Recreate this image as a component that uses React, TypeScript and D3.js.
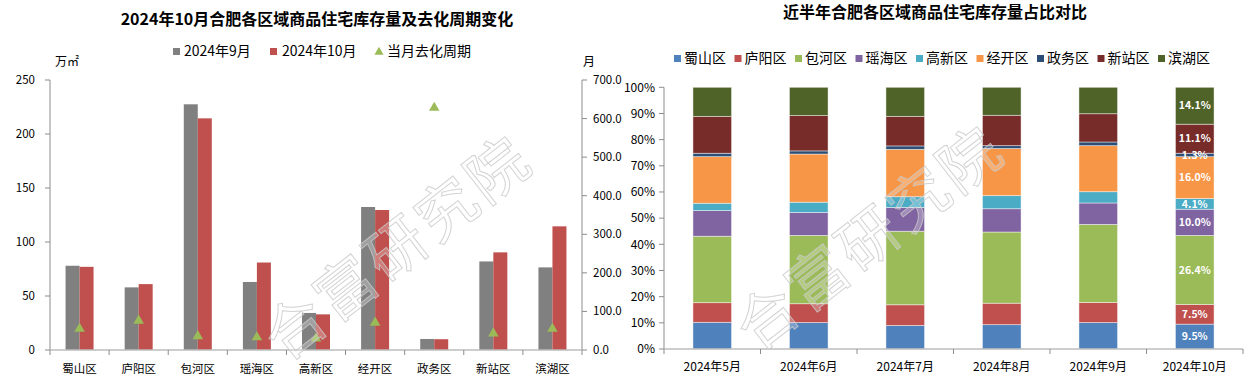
import React, { useEffect, useRef } from "react";
import * as d3 from "d3";

// left chart: stock (万㎡) for Sep / Oct and the destocking cycle (months)
const districts = ["蜀山区", "庐阳区", "包河区", "瑶海区", "高新区", "经开区", "政务区", "新站区", "滨湖区"];
const stockSep = [78, 58, 227.5, 63, 34.3, 132.4, 10.2, 82, 76.5];
const stockOct = [77, 61, 214.5, 81, 33, 129.6, 10, 90.4, 114.5];
const cycleOct = [55, 76, 36, 33, 30, 71, 628, 43, 55];
const leftTicks = [0, 50, 100, 150, 200, 250];
const rightTicks = [0, 100, 200, 300, 400, 500, 600, 700];

// right chart: share of stock by district (%), one array per district
const months = ["2024年5月", "2024年6月", "2024年7月", "2024年8月", "2024年9月", "2024年10月"];
const shuShan = [10.2, 10.1, 9.0, 9.3, 10.1, 9.5];
const luYang = [7.5, 7.2, 7.9, 8.2, 7.7, 7.5];
const baoHe = [25.4, 26.1, 28.1, 27.2, 29.8, 26.4];
const yaoHai = [9.8, 8.8, 9.1, 8.9, 8.2, 10.0];
const gaoXin = [2.8, 3.9, 4.1, 5.0, 4.3, 4.1];
const jingKai = [17.8, 18.4, 18.1, 18.0, 17.6, 16.0];
const zhengWu = [1.3, 1.2, 1.3, 1.1, 1.4, 1.3];
const xinZhan = [14.1, 13.5, 11.3, 11.6, 10.8, 11.1];
const binHu = [11.1, 10.8, 11.1, 10.7, 10.1, 14.1];
const shareSeries = [shuShan, luYang, baoHe, yaoHai, gaoXin, jingKai, zhengWu, xinZhan, binHu];
const pctTicks = [0, 10, 20, 30, 40, 50, 60, 70, 80, 90, 100];

const FONT = "'Noto Sans CJK SC', 'Noto Sans', sans-serif";
const shareColors = ["#4F81BD", "#C0504D", "#9BBB59", "#8064A2", "#4BACC6", "#F79646", "#2C4D75", "#772C2A", "#4F6228"];

export default function App() {
  const ref = useRef<SVGSVGElement>(null);

  useEffect(() => {
    const svg = d3.select(ref.current);
    svg.selectAll("*").remove();

    // ---------- left chart ----------
    const L = { x0: 50, x1: 582, y0: 80, y1: 350 };
    const g1 = svg.append("g");

    g1.append("text").attr("x", 317).attr("y", 24.5).attr("text-anchor", "middle")
      .attr("font-size", 16).attr("font-weight", "bold").attr("font-family", FONT)
      .text("2024年10月合肥各区域商品住宅库存量及去化周期变化");

    const x = d3.scaleBand().domain(districts).range([L.x0, L.x1]).padding(0);
    const xs = d3.scaleBand().domain(["sep", "oct"]).range([x.bandwidth() / 2 - 14, x.bandwidth() / 2 + 14]);
    const yL = d3.scaleLinear().domain([0, 250]).range([L.y1, L.y0]);
    const yR = d3.scaleLinear().domain([0, 700]).range([L.y1, L.y0]);

    // left axis
    g1.append("line").attr("x1", L.x0).attr("x2", L.x0).attr("y1", L.y0).attr("y2", L.y1).attr("stroke", "#8c8c8c");
    g1.selectAll(".ltick").data(leftTicks).join("g").attr("class", "ltick").each(function (d) {
      const t = d3.select(this);
      t.append("line").attr("x1", L.x0 - 5).attr("x2", L.x0).attr("y1", yL(d)).attr("y2", yL(d)).attr("stroke", "#8c8c8c");
      t.append("text").attr("x", 35).attr("y", yL(d)).attr("dy", "0.35em").attr("text-anchor", "end")
        .attr("font-size", 11.5).attr("font-family", FONT).text(d);
    });
    // right axis
    g1.append("line").attr("x1", L.x1).attr("x2", L.x1).attr("y1", L.y0).attr("y2", L.y1).attr("stroke", "#8c8c8c");
    g1.selectAll(".rtick").data(rightTicks).join("g").attr("class", "rtick").each(function (d) {
      const t = d3.select(this);
      t.append("line").attr("x1", L.x1).attr("x2", L.x1 + 5).attr("y1", yR(d)).attr("y2", yR(d)).attr("stroke", "#8c8c8c");
      t.append("text").attr("x", 593).attr("y", yR(d)).attr("dy", "0.35em")
        .attr("font-size", 11.5).attr("font-family", FONT).text(d.toFixed(1));
    });

    g1.append("text").attr("x", 55).attr("y", 62).attr("dy", "0.35em").attr("font-size", 12).attr("font-family", FONT).text("万㎡");
    g1.append("text").attr("x", 583).attr("y", 62).attr("dy", "0.35em").attr("font-size", 12).attr("font-family", FONT).text("月");

    // bars
    const pairs = districts.map((d, i) => ({ d, sep: stockSep[i], oct: stockOct[i], cyc: cycleOct[i] }));
    g1.selectAll(".sep").data(pairs).join("rect").attr("class", "sep")
      .attr("x", (p) => x(p.d)! + xs("sep")!).attr("width", xs.bandwidth())
      .attr("y", (p) => yL(p.sep)).attr("height", (p) => L.y1 - yL(p.sep)).attr("fill", "#808080");
    g1.selectAll(".oct").data(pairs).join("rect").attr("class", "oct")
      .attr("x", (p) => x(p.d)! + xs("oct")!).attr("width", xs.bandwidth())
      .attr("y", (p) => yL(p.oct)).attr("height", (p) => L.y1 - yL(p.oct)).attr("fill", "#C0504D");

    // bottom axis
    g1.append("line").attr("x1", L.x0).attr("x2", L.x1).attr("y1", L.y1).attr("y2", L.y1).attr("stroke", "#bdbdbd").attr("stroke-width", 1.5);
    g1.selectAll(".btick").data(d3.range(districts.length + 1)).join("line").attr("class", "btick")
      .attr("x1", (i) => L.x0 + i * x.step()).attr("x2", (i) => L.x0 + i * x.step())
      .attr("y1", L.y1).attr("y2", L.y1 + 5).attr("stroke", "#8c8c8c");
    g1.selectAll(".xlab").data(districts).join("text").attr("class", "xlab")
      .attr("x", (d) => x(d)! + x.bandwidth() / 2).attr("y", 373).attr("text-anchor", "middle")
      .attr("font-size", 11.5).attr("font-family", FONT).text((d) => d);

    // triangles (cycle)
    const tri = d3.symbol().type(d3.symbolTriangle).size(48);
    g1.selectAll(".tri").data(pairs).join("path").attr("class", "tri").attr("d", tri)
      .attr("transform", (p) => `translate(${x(p.d)! + x.bandwidth() / 2},${yR(p.cyc)})`)
      .attr("fill", "#9BBB59");

    // legend
    const lg = g1.append("g").attr("font-size", 14).attr("font-family", FONT);
    lg.append("rect").attr("x", 173).attr("y", 48).attr("width", 7).attr("height", 7).attr("fill", "#808080");
    lg.append("text").attr("x", 184).attr("y", 51.5).attr("dy", "0.35em").text("2024年9月");
    lg.append("rect").attr("x", 270).attr("y", 48).attr("width", 7).attr("height", 7).attr("fill", "#C0504D");
    lg.append("text").attr("x", 282).attr("y", 51.5).attr("dy", "0.35em").text("2024年10月");
    lg.append("path").attr("d", d3.symbol().type(d3.symbolTriangle).size(36)).attr("transform", "translate(379,52)").attr("fill", "#9BBB59");
    lg.append("text").attr("x", 387).attr("y", 51.5).attr("dy", "0.35em").text("当月去化周期");

    // ---------- right chart ----------
    const R = { x0: 664, x1: 1243, y0: 87.3, y1: 349 };
    const g2 = svg.append("g");

    g2.append("text").attr("x", 935).attr("y", 18).attr("text-anchor", "middle")
      .attr("font-size", 16).attr("font-weight", "bold").attr("font-family", FONT)
      .text("近半年合肥各区域商品住宅库存量占比对比");

    const mx = d3.scaleBand().domain(months).range([R.x0, R.x1]).paddingInner(0.6).paddingOuter(0.3);
    const py = d3.scaleLinear().domain([0, 1]).range([R.y1, R.y0]);

    g2.append("line").attr("x1", R.x0).attr("x2", R.x0).attr("y1", R.y0).attr("y2", R.y1).attr("stroke", "#8c8c8c");
    g2.selectAll(".ptick").data(pctTicks).join("g").attr("class", "ptick").each(function (d) {
      const t = d3.select(this);
      t.append("line").attr("x1", R.x0 - 5).attr("x2", R.x0).attr("y1", py(d / 100)).attr("y2", py(d / 100)).attr("stroke", "#8c8c8c");
      t.append("text").attr("x", 655).attr("y", py(d / 100)).attr("dy", "0.35em").attr("text-anchor", "end")
        .attr("font-size", 12).attr("font-family", FONT).text(d + "%");
    });

    const rows = months.map((m, j) => {
      const r: any = { month: m };
      districts.forEach((d, i) => (r[d] = shareSeries[i][j]));
      return r;
    });
    const stacked = d3.stack<any>().keys(districts).offset(d3.stackOffsetExpand)(rows);

    const layers = g2.selectAll(".layer").data(stacked).join("g").attr("class", "layer")
      .attr("fill", (_, i) => shareColors[i]);
    layers.selectAll("rect").data((s) => s).join("rect")
      .attr("x", (d: any) => mx(d.data.month)!).attr("width", mx.bandwidth())
      .attr("y", (d: any) => py(d[1])).attr("height", (d: any) => py(d[0]) - py(d[1]))
      .attr("stroke", "#ffffff").attr("stroke-opacity", 0.55).attr("stroke-width", 0.8);

    // labels for last month
    const last = months[months.length - 1];
    g2.selectAll(".plab").data(stacked).join("text").attr("class", "plab")
      .attr("x", mx(last)! + mx.bandwidth() / 2)
      .attr("y", (s: any) => py((s[s.length - 1][0] + s[s.length - 1][1]) / 2))
      .attr("dy", "0.35em").attr("text-anchor", "middle").attr("fill", "#fff")
      .attr("font-size", 10.5).attr("font-weight", "bold").attr("font-family", FONT)
      .text((_, i) => shareSeries[i][months.length - 1].toFixed(1) + "%");

    g2.append("line").attr("x1", R.x0).attr("x2", R.x1).attr("y1", R.y1).attr("y2", R.y1).attr("stroke", "#bdbdbd").attr("stroke-width", 1.5);
    g2.selectAll(".mtick").data(d3.range(months.length + 1)).join("line").attr("class", "mtick")
      .attr("x1", (i) => R.x0 + i * mx.step()).attr("x2", (i) => R.x0 + i * mx.step())
      .attr("y1", R.y1).attr("y2", R.y1 + 5).attr("stroke", "#8c8c8c");
    g2.selectAll(".mlab").data(months).join("text").attr("class", "mlab")
      .attr("x", (m) => mx(m)! + mx.bandwidth() / 2).attr("y", 367).attr("dy", "0.35em").attr("text-anchor", "middle")
      .attr("font-size", 12).attr("font-family", FONT).text((m) => m);

    // legend
    const lg2 = g2.append("g").attr("font-size", 14).attr("font-family", FONT);
    districts.forEach((d, i) => {
      const lx = 674 + i * 60.5;
      lg2.append("rect").attr("x", lx).attr("y", 55).attr("width", 7).attr("height", 7).attr("fill", shareColors[i]);
      lg2.append("text").attr("x", lx + 10).attr("y", 58.5).attr("dy", "0.35em").text(d);
    });

    // watermarks (kept fully inside the picture)
    [[398, 248], [870, 238]].forEach(([cx, cy]) => {
      svg.append("text").attr("transform", `translate(${cx},${cy}) rotate(-38)`)
        .attr("text-anchor", "middle").attr("dy", "0.35em")
        .attr("font-size", 60).attr("font-family", FONT).attr("letter-spacing", 4)
        .attr("fill", "#ffffff").attr("fill-opacity", 0.25)
        .attr("stroke", "#c8c8c8").attr("stroke-width", 1).attr("stroke-opacity", 0.8)
        .text("合富研究院");
    });
  }, []);

  return (
    <svg ref={ref} width={1255} height={389} style={{ position: "absolute", left: 0, top: 0, background: "#fff" }} />
  );
}
